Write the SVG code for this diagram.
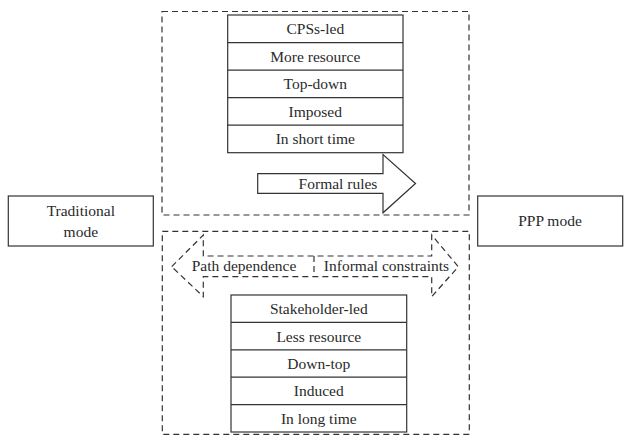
<svg xmlns="http://www.w3.org/2000/svg" width="624" height="436" viewBox="0 0 624 436">
<style>
.t{font-family:"Liberation Serif","Times New Roman",serif;font-size:15.5px;fill:#2a2a2a;text-anchor:middle}
.box{fill:#fff;stroke:#333;stroke-width:1.2}
.dash{fill:none;stroke:#333;stroke-width:1.2;stroke-dasharray:6,4}
</style>
<rect width="624" height="436" fill="#fff"/>
<g id="connectors">
<rect id="top-group" class="dash" x="162" y="11.5" width="307" height="203.5"/>
<rect id="bottom-group" class="dash" x="162.3" y="231.3" width="307" height="203"/>
</g>
<g id="traditional">
<rect class="box" x="8.3" y="196" width="145" height="50"/>
<text class="t" x="80.8" y="216">Traditional</text>
<text class="t" x="80.8" y="237">mode</text>
</g>
<g id="ppp">
<rect class="box" x="477.7" y="196" width="145" height="50"/>
<text class="t" x="550" y="226">PPP mode</text>
</g>
<g id="formal-stack">
<rect class="box" x="227.7" y="15" width="175.3" height="137.7"/>
<line class="box" x1="227.7" y1="42.6" x2="403" y2="42.6"/>
<line class="box" x1="227.7" y1="70.1" x2="403" y2="70.1"/>
<line class="box" x1="227.7" y1="97.7" x2="403" y2="97.7"/>
<line class="box" x1="227.7" y1="125.2" x2="403" y2="125.2"/>
<text class="t" x="315.3" y="34">CPSs-led</text>
<text class="t" x="315.3" y="61.5">More resource</text>
<text class="t" x="315.3" y="89">Top-down</text>
<text class="t" x="315.3" y="116.5">Imposed</text>
<text class="t" x="315.3" y="144">In short time</text>
</g>
<g id="formal-rules">
<polygon class="box" points="257.7,173.6 383,173.6 383,154.5 415.5,183.5 383,212.8 383,193.3 257.7,193.3"/>
<text class="t" x="338" y="188.5">Formal rules</text>
</g>
<g id="informal-arrow">
<polygon class="dash" stroke-dasharray="5,4" points="171.7,266.7 203.3,235 203.3,256 431.7,256 431.7,235 458.3,266.7 431.7,296.7 431.7,276.7 203.3,276.7 203.3,296.7"/>
<line class="dash" stroke-dasharray="3,3" x1="314" y1="256" x2="314" y2="276.7"/>
<text class="t" x="244" y="271">Path dependence</text>
<text class="t" x="386.5" y="271">Informal constraints</text>
</g>
<g id="informal-stack">
<rect class="box" x="231" y="295" width="175.7" height="137"/>
<line class="box" x1="231" y1="322.4" x2="406.7" y2="322.4"/>
<line class="box" x1="231" y1="349.8" x2="406.7" y2="349.8"/>
<line class="box" x1="231" y1="377.2" x2="406.7" y2="377.2"/>
<line class="box" x1="231" y1="404.6" x2="406.7" y2="404.6"/>
<text class="t" x="318.8" y="314">Stakeholder-led</text>
<text class="t" x="318.8" y="341.5">Less resource</text>
<text class="t" x="318.8" y="369">Down-top</text>
<text class="t" x="318.8" y="396">Induced</text>
<text class="t" x="318.8" y="423.5">In long time</text>
</g>
</svg>
